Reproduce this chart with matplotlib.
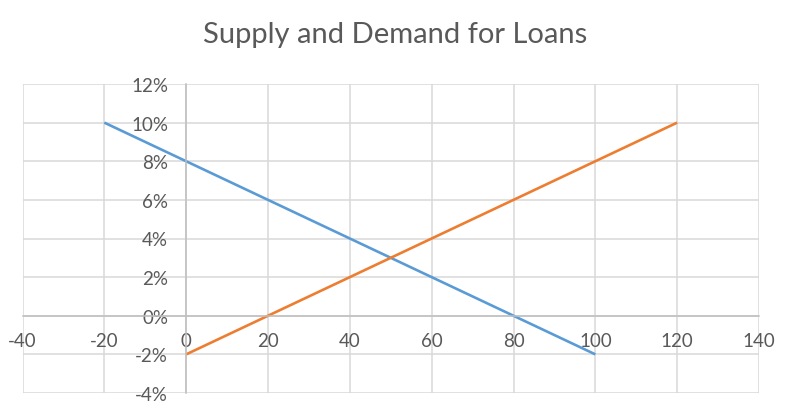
import numpy as np
import matplotlib.pyplot as plt
from matplotlib.ticker import FuncFormatter

# data
demand_x = [-20, 100]
demand_y = [0.10, -0.02]
supply_x = [0, 120]
supply_y = [-0.02, 0.10]
x_ticks = list(range(-40, 141, 20))
y_ticks = [-0.04, -0.02, 0, 0.02, 0.04, 0.06, 0.08, 0.10, 0.12]

plt.rcParams['font.family'] = ['Lato', 'DejaVu Sans']
plt.rcParams['axes.unicode_minus'] = False

fig = plt.figure(figsize=(7.9, 4.14), dpi=100)
ax = fig.add_axes([22.5 / 790, 20 / 414, (759 - 22.5) / 790, (394 - 85) / 414])

ax.plot(demand_x, demand_y, color='#5B9BD5', lw=1.9, solid_capstyle='butt')
ax.plot(supply_x, supply_y, color='#ED7D31', lw=1.9, solid_capstyle='butt')

ax.set_xlim(-40, 140)
ax.set_ylim(-0.04, 0.12)
ax.set_xticks(x_ticks)
ax.set_yticks(y_ticks)
ax.yaxis.set_major_formatter(FuncFormatter(lambda v, p: f'{v * 100:.0f}%'))

ax.grid(True, color='#d9d9d9', lw=1.1)
ax.set_axisbelow(True)

for s in ['top', 'right']:
    ax.spines[s].set_visible(False)
ax.spines['left'].set_position(('data', 0))
ax.spines['bottom'].set_position(('data', 0))
ax.spines['left'].set_color('#bfbfbf')
ax.spines['bottom'].set_color('#bfbfbf')
ax.spines['left'].set_linewidth(1.1)
ax.spines['bottom'].set_linewidth(1.1)

ax.tick_params(axis='x', length=0, pad=12, labelsize=13.5, labelcolor='#595959')
ax.tick_params(axis='y', length=0, pad=13, labelsize=13.5, labelcolor='#595959')

fig.text(0.5, 1 - 35 / 414, 'Supply and Demand for Loans', ha='center', va='center',
         fontsize=21, color='#595959')

fig.savefig('out.png', dpi=100)
